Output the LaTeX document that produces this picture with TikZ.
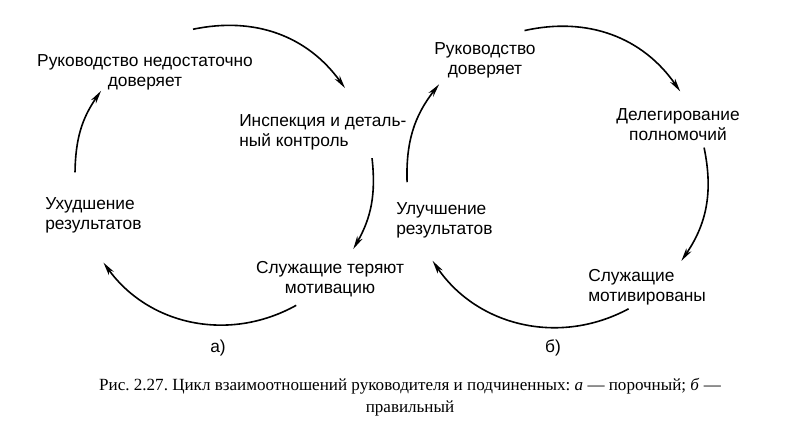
\documentclass[tikz,border=0pt]{standalone}
\usepackage{fontspec}
\setmainfont{Liberation Serif}
\setsansfont{Liberation Sans}
\usetikzlibrary{arrows.meta}
\frenchspacing

\begin{document}
\begin{tikzpicture}[x=0.75pt,y=0.75pt,
    text_node/.style={inner sep=0pt,font=\sffamily\fontsize{13}{15}\selectfont},
    cycle_arrow/.style={line width=1.2pt,-{Stealth[length=10pt,width=4.5pt,inset=3pt]}}]
        \useasboundingbox (0,0) rectangle (786,-436);

        % a) vicious cycle
        \node[text_node,align=center] (1) at (145,-72) {Руководство недостаточно\\доверяет};
        \node[text_node,align=left,anchor=west] (2) at (239,-132) {Инспекция и деталь-\\ный контроль};
        \node[text_node,align=center] (3) at (330,-279) {Служащие теряют\\мотивацию};
        \node[text_node,align=left,anchor=west] (4) at (45,-215) {Ухудшение\\результатов};
        \node[text_node] (la) at (218,-348) {а)};

        \coordinate (a1) at ([shift={(224,-175)}]102:149);
        \coordinate (a2) at ([shift={(224,-175)}]35.7:149);
        \coordinate (a3) at ([shift={(224,-175)}]6.5:149);
        \coordinate (a4) at ([shift={(224,-175)}]-29.8:149);
        \coordinate (a5) at ([shift={(224,-175)}]-61:149);
        \coordinate (a6) at ([shift={(224,-175)}]-144:149);
        \coordinate (a7) at ([shift={(224,-175)}]179:149);
        \coordinate (a8) at ([shift={(224,-175)}]145.6:149);

        \draw[cycle_arrow] (a1) to[bend left=33] (a2);
        \draw[cycle_arrow] (a3) to[bend left=18] (a4);
        \draw[cycle_arrow] (a5) to[bend left=41.5] (a6);
        \draw[cycle_arrow] (a7) to[bend left=17] (a8);

        % b) right cycle
        \node[text_node,align=center] (5) at (485,-60) {Руководство\\доверяет};
        \node[text_node,align=center] (6) at (678,-125) {Делегирование\\полномочий};
        \node[text_node,align=left,anchor=west] (7) at (588,-287) {Служащие\\мотивированы};
        \node[text_node,align=left,anchor=west] (8) at (396,-220) {Улучшение\\результатов};
        \node[text_node] (lb) at (553,-348) {б)};

        \coordinate (b1) at ([shift={(557,-177)}]102.5:150);
        \coordinate (b2) at ([shift={(557,-177)}]34.8:150);
        \coordinate (b3) at ([shift={(557,-177)}]11.3:150);
        \coordinate (b4) at ([shift={(557,-177)}]-34:150);
        \coordinate (b5) at ([shift={(557,-177)}]-61.5:150);
        \coordinate (b6) at ([shift={(557,-177)}]-146:150);
        \coordinate (b7) at ([shift={(557,-177)}]182:150);
        \coordinate (b8) at ([shift={(557,-177)}]141.8:150);

        \draw[cycle_arrow] (b1) to[bend left=34] (b2);
        \draw[cycle_arrow] (b3) to[bend left=23] (b4);
        \draw[cycle_arrow] (b5) to[bend left=42] (b6);
        \draw[cycle_arrow] (b7) to[bend left=20] (b8);

        \node[inner sep=0pt,align=center,font=\fontsize{12.8}{16.5}\selectfont] (cap) at (410,-397)
            {Рис. 2.27. Цикл взаимоотношений руководителя и подчиненных: \textit{а} — порочный; \textit{б} —\\правильный};
\end{tikzpicture}
\end{document}
